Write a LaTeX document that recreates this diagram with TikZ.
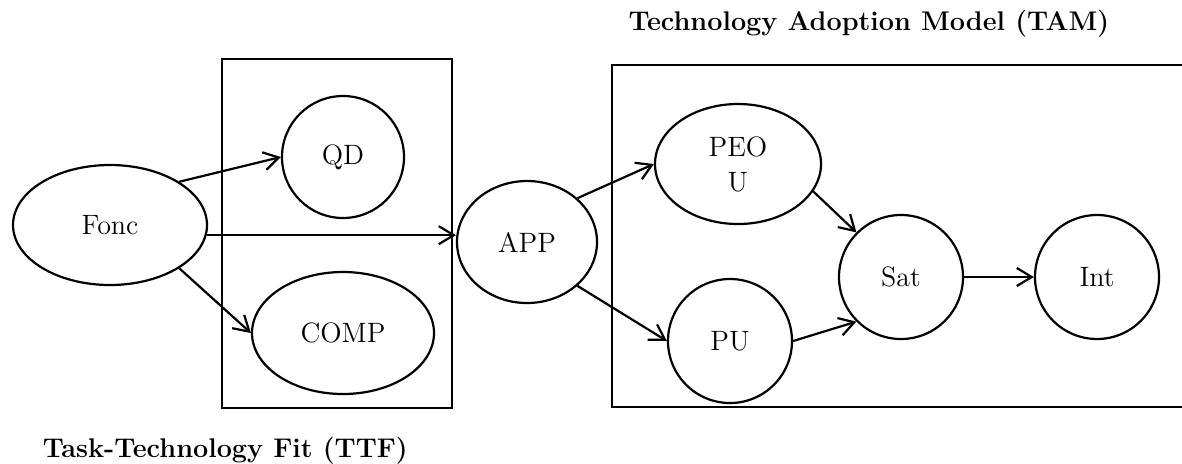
\documentclass[tikz,border=0pt]{standalone}
\usetikzlibrary{shapes.geometric,arrows.meta}
\begin{document}
\begin{tikzpicture}[x=0.5pt, y=-0.5pt, line width=1.1pt,
  >={Straight Barb[length=7.5pt,width=9pt]},
  every node/.style={font=\fontsize{14}{17.5}\selectfont},
  ovalnode/.style={draw, ellipse, inner sep=0pt},
  circnode/.style={draw, circle, inner sep=0pt, minimum size=62pt},
  title/.style={font=\fontsize{13.5}{15}\selectfont\bfseries}]
  \useasboundingbox (0,0) rectangle (1182,463);

  % the two frames and their titles
  \draw (222,59) rectangle (452,408);
  \draw (1182,65) -- (612,65) -- (612,407) -- (1182,407);
  \node[title, anchor=base west] (ttf) at (35,457) {Task-Technology Fit (TTF)};
  \node[title, anchor=base east] (tam) at (1117,30) {Technology Adoption Model (TAM)};

  % constructs
  \node[ovalnode, minimum width=97pt, minimum height=60pt] (Fonc) at (110,225) {Fonc};
  \node[circnode, minimum size=61pt] (QD) at (343,157) {QD};
  \node[ovalnode, minimum width=91pt, minimum height=61pt] (COMP) at (343,333) {COMP};
  \node[ovalnode, minimum width=70pt, minimum height=61pt] (APP) at (527,242) {APP};
  \node[ovalnode, minimum width=83pt, minimum height=60pt, align=center] (PEOU) at (738,164) {PEO\\U};
  \node[circnode] (PU) at (730,341) {PU};
  \node[circnode] (Sat) at (901,277) {Sat};
  \node[circnode] (Int) at (1097,277) {Int};

  % paths
  \draw[->] (Fonc.32) -- (QD.west);
  \draw[->] (Fonc.-32) -- (COMP.west);
  \draw[->] (Fonc.-6) -- (Fonc.-6 -| APP.west);
  \draw[->] (APP.41) -- (PEOU.west);
  \draw[->] (APP.-41) -- (PU.west);
  \draw[->] (PEOU.-20) -- (Sat.135);
  \draw[->] (PU.east) -- (Sat.225);
  \draw[->] (Sat) -- (Int);
\end{tikzpicture}
\end{document}
